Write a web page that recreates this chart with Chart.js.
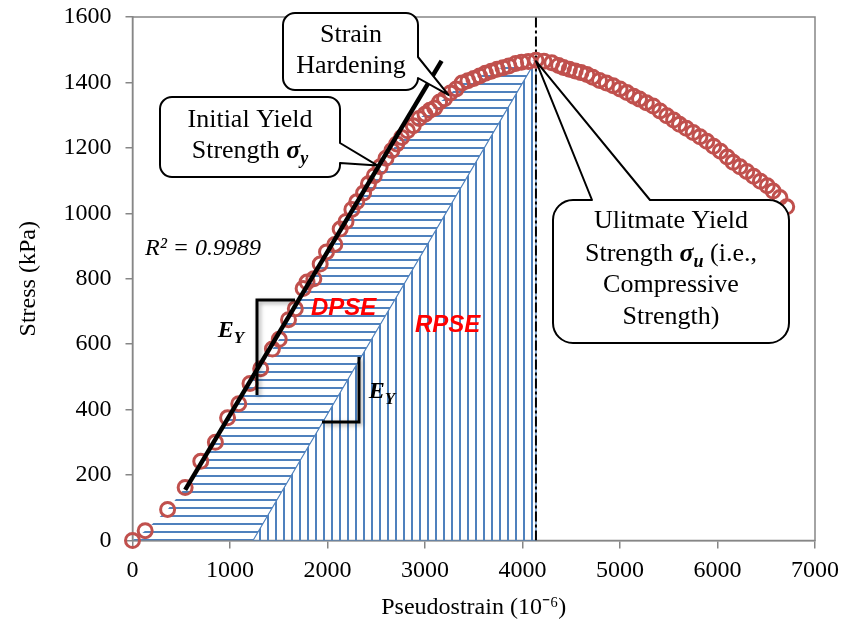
<!DOCTYPE html>
<html>
<head>
<meta charset="utf-8">
<script src="https://cdn.jsdelivr.net/npm/chart.js@4.4.1/dist/chart.umd.min.js"></script>
<style>
  body { margin: 0; background: #fff; }
  #wrap { width: 846px; height: 632px; }
</style>
</head>
<body>
<div id="wrap"><canvas id="chart"></canvas></div>
<script>
// measured points (pseudostrain in 10^-6, stress in kPa)
const strain = [
  0, 130, 360, 540, 700, 850, 975, 1090, 1205, 1315, 1435, 1505, 1600, 1670,
  1750, 1790, 1860, 1925, 1990, 2075, 2130, 2190, 2250, 2300, 2370, 2420, 2480,
  2540, 2600, 2660, 2710, 2760, 2820, 2880, 2940, 3000, 3050, 3100, 3150, 3200,
  3260, 3320, 3380, 3440, 3500, 3560, 3620, 3680, 3740, 3800, 3860, 3930, 3990,
  4060, 4138,
  4220, 4300, 4370, 4420, 4480, 4540, 4600, 4660, 4720, 4790, 4860, 4930, 5000,
  5070, 5140, 5200, 5270, 5340, 5410, 5480, 5550, 5610, 5680, 5750, 5820, 5890,
  5960, 6030, 6100, 6160, 6230, 6300, 6370, 6440, 6510, 6570, 6640, 6710
];
const stress = [
  0, 30, 95, 162, 242, 300, 375, 418, 480, 525, 585, 615, 675, 708,
  770, 790, 800, 845, 882, 905, 952, 975, 1012, 1035, 1062, 1090, 1115,
  1142, 1168, 1192, 1212, 1232, 1252, 1268, 1290, 1303, 1315, 1322, 1340, 1350,
  1368, 1380, 1398, 1405, 1412, 1420, 1428, 1434, 1440, 1445, 1450, 1458, 1462,
  1464, 1468,
  1465, 1460, 1452, 1446, 1440, 1435, 1430, 1424, 1416, 1406, 1398, 1390, 1380,
  1369, 1358, 1349, 1338, 1328, 1313, 1298, 1285, 1272, 1260, 1247, 1234, 1220,
  1205, 1190, 1172, 1156, 1142, 1128, 1113, 1098, 1084, 1068, 1048, 1020
];

// linear fit of the initial part
const fitX = [540, 3170];
const fitY = [155, 1466];

// compressive strength and the unloading line (slope E_Y) from the peak
const peakStrain = 4138;
const rpseX = [1236, 4138, 4138, 1236];
const rpseY = [0, 0, 1468, 0];

const xTicks = [0, 1000, 2000, 3000, 4000, 5000, 6000, 7000];
const yTicks = [0, 200, 400, 600, 800, 1000, 1200, 1400, 1600];

const points = strain.map((v, i) => ({ x: v, y: stress[i] }));
const dpse = points.filter(p => p.x <= peakStrain).concat([{ x: rpseX[0], y: 0 }]);

function hatch(dir) {
  const c = document.createElement('canvas');
  c.width = 8; c.height = 8;
  const g = c.getContext('2d');
  g.strokeStyle = '#4f81bd';
  g.lineWidth = 2;
  g.beginPath();
  if (dir === 'h') { g.moveTo(0, 4); g.lineTo(8, 4); }
  else { g.moveTo(4, 0); g.lineTo(4, 8); }
  g.stroke();
  return g.createPattern(c, 'repeat');
}

const serif = 'Liberation Serif';

function runs(ctx, parts, cx, base) {
  let w = 0;
  parts.forEach(p => { ctx.font = p.font; w += ctx.measureText(p.t).width; });
  let x = cx - w / 2;
  parts.forEach(p => {
    ctx.font = p.font;
    ctx.fillText(p.t, x, base + (p.dy || 0));
    x += ctx.measureText(p.t).width;
  });
}

function callout(ctx, x, y, w, h, r, ptr) {
  ctx.beginPath();
  ctx.moveTo(x + r, y);
  if (ptr.side === 'top') {
    ctx.lineTo(ptr.a, y); ctx.lineTo(ptr.tx, ptr.ty); ctx.lineTo(ptr.b, y);
  }
  ctx.arcTo(x + w, y, x + w, y + r, r);
  if (ptr.side === 'right') {
    ctx.lineTo(x + w, ptr.a); ctx.lineTo(ptr.tx, ptr.ty); ctx.lineTo(x + w, ptr.b);
  }
  ctx.arcTo(x + w, y + h, x + w - r, y + h, r);
  ctx.arcTo(x, y + h, x, y + h - r, r);
  ctx.arcTo(x, y, x + r, y, r);
  ctx.closePath();
  ctx.fillStyle = '#fff';
  ctx.fill();
  ctx.strokeStyle = '#000';
  ctx.lineWidth = 2;
  ctx.lineJoin = 'round';
  ctx.stroke();
}

const frame = {
  id: 'frame',
  beforeDatasetsDraw(chart) {
    const { ctx, chartArea: a } = chart;
    ctx.save();
    ctx.strokeStyle = '#868686';
    ctx.lineWidth = 1.5;
    ctx.strokeRect(a.left, a.top, a.right - a.left, a.bottom - a.top);
    ctx.restore();
  }
};

const notes = {
  id: 'notes',
  afterDatasetsDraw(chart) {
    const { ctx, scales: { x, y } } = chart;
    ctx.save();

    // slope brackets
    ctx.save();
    ctx.shadowColor = 'rgba(0,0,0,0.35)';
    ctx.shadowBlur = 4;
    ctx.shadowOffsetX = 2;
    ctx.shadowOffsetY = 2;
    ctx.strokeStyle = '#000';
    ctx.lineWidth = 3;
    ctx.beginPath();
    ctx.moveTo(295, 300); ctx.lineTo(257, 300); ctx.lineTo(257, 395);
    ctx.moveTo(359, 357); ctx.lineTo(359, 422); ctx.lineTo(322, 422);
    ctx.stroke();
    ctx.restore();

    ctx.fillStyle = '#000';
    ctx.textAlign = 'left';
    ctx.textBaseline = 'alphabetic';
    const eFont = 'italic bold 24px ' + serif, yFont = 'italic bold 17px ' + serif;
    runs(ctx, [{ t: 'E', font: eFont }, { t: 'Y', font: yFont, dy: 6 }], 231, 337);
    runs(ctx, [{ t: 'E', font: eFont }, { t: 'Y', font: yFont, dy: 6 }], 382, 398);

    ctx.font = 'italic 24px ' + serif;
    ctx.fillText('R² = 0.9989', 145, 255);

    ctx.fillStyle = '#ff0000';
    ctx.font = 'italic bold 24px "Liberation Sans"';
    ctx.fillText('DPSE', 311, 315);
    ctx.fillText('RPSE', 415, 332);

    // callouts
    const f = '26px ' + serif, fb = 'italic bold 26px ' + serif, fs = 'italic bold 18px ' + serif;
    callout(ctx, 283, 13, 135, 77, 12, { side: 'right', a: 57, b: 78, tx: x.getPixelForValue(3240), ty: y.getPixelForValue(1362) });
    callout(ctx, 160, 97, 180, 80, 12, { side: 'right', a: 143, b: 163, tx: x.getPixelForValue(2515), ty: y.getPixelForValue(1146) });
    callout(ctx, 553, 200, 236, 143, 20, { side: 'top', a: 592, b: 650, tx: x.getPixelForValue(peakStrain), ty: y.getPixelForValue(1465) });

    ctx.fillStyle = '#000';
    runs(ctx, [{ t: 'Strain', font: f }], 351, 42);
    runs(ctx, [{ t: 'Hardening', font: f }], 351, 73);
    runs(ctx, [{ t: 'Initial Yield', font: f }], 250, 127);
    runs(ctx, [{ t: 'Strength ', font: f }, { t: 'σ', font: fb }, { t: 'y', font: fs, dy: 6 }], 250, 158);
    runs(ctx, [{ t: 'Ulitmate Yield', font: f }], 671, 228);
    runs(ctx, [{ t: 'Strength ', font: f }, { t: 'σ', font: fb }, { t: 'u', font: fs, dy: 6 }, { t: ' (i.e.,', font: f }], 671, 261);
    runs(ctx, [{ t: 'Compressive', font: f }], 671, 292);
    runs(ctx, [{ t: 'Strength)', font: f }], 671, 324);

    ctx.restore();
  }
};

const tickFont = { family: serif, size: 24 };

new Chart(document.getElementById('chart'), {
  type: 'scatter',
  data: {
    datasets: [
      {
        data: fitX.map((v, i) => ({ x: v, y: fitY[i] })),
        showLine: true, borderColor: '#000', borderWidth: 4.5, pointRadius: 0, fill: false
      },
      {
        data: points,
        showLine: false, pointRadius: 7, pointBorderWidth: 3,
        pointBorderColor: '#c0504d', pointBackgroundColor: 'rgba(0,0,0,0)', clip: false
      },
      {
        data: [{ x: peakStrain, y: 0 }, { x: peakStrain, y: 1600 }],
        showLine: true, borderColor: '#000', borderWidth: 2, borderDash: [10, 3, 3, 3], pointRadius: 0
      },
      {
        data: rpseX.map((v, i) => ({ x: v, y: rpseY[i] })),
        showLine: true, borderColor: '#4f81bd', borderWidth: 1.2, pointRadius: 0,
        fill: 'shape', backgroundColor: hatch('v')
      },
      {
        data: dpse,
        showLine: true, borderWidth: 0, borderColor: 'rgba(0,0,0,0)', pointRadius: 0,
        fill: 'shape', backgroundColor: hatch('h')
      }
    ]
  },
  options: {
    responsive: true,
    maintainAspectRatio: false,
    animation: false,
    events: [],
    layout: { padding: { top: 17, right: 31, left: 0, bottom: 0 } },
    plugins: { legend: { display: false }, tooltip: { enabled: false } },
    scales: {
      x: {
        type: 'linear', min: 0, max: 7000,
        afterBuildTicks: s => { s.ticks = xTicks.map(v => ({ value: v })); },
        afterFit: s => { s.height = 91.5; s.paddingLeft = 0; s.paddingRight = 0; },
        grid: { drawOnChartArea: false, tickLength: 8, color: '#868686', lineWidth: 1.5 },
        border: { color: '#868686', width: 1.5 },
        ticks: { font: tickFont, color: '#000', padding: 8, maxRotation: 0, callback: v => String(v) },
        title: { display: true, text: 'Pseudostrain (10⁻⁶)', font: tickFont, color: '#000', padding: { top: 0, bottom: 10 } }
      },
      y: {
        type: 'linear', min: 0, max: 1600,
        afterBuildTicks: s => { s.ticks = yTicks.map(v => ({ value: v })); },
        afterFit: s => { s.width = 132.5; s.paddingTop = 0; s.paddingBottom = 0; },
        grid: { drawOnChartArea: false, tickLength: 7, color: '#868686', lineWidth: 1.5 },
        border: { color: '#868686', width: 1.5 },
        ticks: { font: tickFont, color: '#000', padding: 14, callback: v => String(v) },
        title: { display: true, text: 'Stress (kPa)', font: tickFont, color: '#000', padding: { top: 14, bottom: 0 } }
      }
    }
  },
  plugins: [frame, notes]
});
</script>
</body>
</html>
